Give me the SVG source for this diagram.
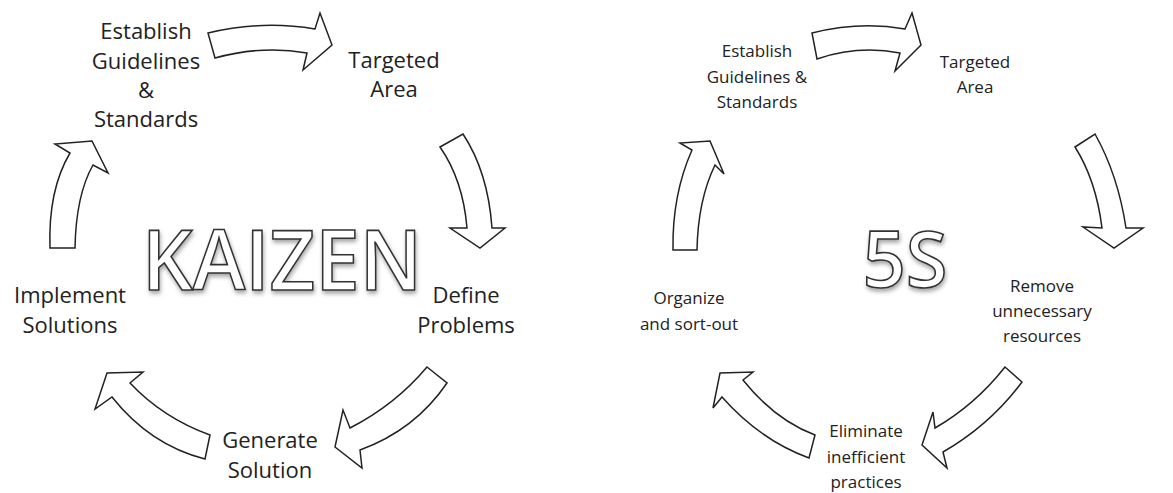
<svg xmlns="http://www.w3.org/2000/svg" width="1173" height="493" viewBox="0 0 1173 493">
<style>
.lbl{font-family:"Open Sans","Noto Sans",sans-serif;font-size:22px;fill:#222;text-anchor:middle}
.lbs{font-family:"Open Sans","Noto Sans",sans-serif;font-size:17px;fill:#222;text-anchor:middle}
.ttl{font-family:"Open Sans","Noto Sans",sans-serif;font-weight:600;fill:#fff;stroke:#333;stroke-width:1.6;text-anchor:middle;filter:url(#sh)}
.arr{fill:#fff;stroke:#222;stroke-width:1.5;stroke-linejoin:miter}
</style>
<defs>
<filter id="sh" x="-10%" y="-20%" width="120%" height="150%">
<feDropShadow dx="1" dy="3" stdDeviation="2" flood-color="#000" flood-opacity="0.35"/>
</filter>
</defs>
<rect width="1173" height="493" fill="#fff"/>
<g id="connectors">
<path class="arr" d="M208,33 Q262,20 315,29 L320,13 L332,45 L303,70 L307,53 Q262,45 215,58 Z"/>
<path class="arr" d="M440,147 L463,134 Q488,172 492,228 L505,228 L480,248 L450,228 L467,228 Q463,180 440,147 Z"/>
<path class="arr" d="M50,248 Q48,190 70,153 L55,144 L92,141 L108,173 L93,165 Q76,195 75,248 Z"/>
<path class="arr" d="M427,367 L447,383 Q415,430 360,450 L362,468 L335,447 L343,410 L350,428 Q395,405 427,367 Z"/>
<path class="arr" d="M210,435 L205,459 Q150,445 112,397 L95,409 L107,373 L143,372 L130,383 Q163,418 210,435 Z"/>
<path class="arr" d="M812,33 Q860,21 905,29 L912,13 L921,45 L895,71 L900,53 Q858,45 817,59 Z"/>
<path class="arr" d="M1075,147 L1095,134 Q1118,175 1126,228 L1143,228 L1114,248 L1083,227 L1102,228 Q1096,180 1075,147 Z"/>
<path class="arr" d="M673,250 Q672,195 692,150 L680,143 L710,141 L724,174 L715,165 Q698,200 697,250 Z"/>
<path class="arr" d="M1005,367 L1022,382 Q990,425 943,452 L947,468 L922,445 L933,412 L935,428 Q975,405 1005,367 Z"/>
<path class="arr" d="M815,435 L809,458 Q760,440 722,397 L713,408 L720,373 L753,372 L743,380 Q775,420 815,435 Z"/>
</g>
<g id="kaizen-title"><text class="ttl" x="282" y="290" font-size="84" textLength="280" lengthAdjust="spacingAndGlyphs">KAIZEN</text></g>
<g id="k-establish"><text class="lbl" x="146" y="39">Establish</text><text class="lbl" x="146" y="69">Guidelines</text><text class="lbl" x="146" y="98">&amp;</text><text class="lbl" x="146" y="127">Standards</text></g>
<g id="k-targeted"><text class="lbl" x="394" y="68">Targeted</text><text class="lbl" x="394" y="97">Area</text></g>
<g id="k-define"><text class="lbl" x="466" y="303">Define</text><text class="lbl" x="466" y="333">Problems</text></g>
<g id="k-generate"><text class="lbl" x="270" y="448">Generate</text><text class="lbl" x="270" y="478">Solution</text></g>
<g id="k-implement"><text class="lbl" x="70" y="303">Implement</text><text class="lbl" x="70" y="333">Solutions</text></g>
<g id="fives-title"><text class="ttl" x="905" y="287" font-size="77" textLength="85" lengthAdjust="spacingAndGlyphs">5S</text></g>
<g id="s-establish"><text class="lbs" x="757" y="57">Establish</text><text class="lbs" x="757" y="83">Guidelines &amp;</text><text class="lbs" x="757" y="108">Standards</text></g>
<g id="s-targeted"><text class="lbs" x="975" y="68">Targeted</text><text class="lbs" x="975" y="93">Area</text></g>
<g id="s-remove"><text class="lbs" x="1042" y="292">Remove</text><text class="lbs" x="1042" y="317">unnecessary</text><text class="lbs" x="1042" y="342">resources</text></g>
<g id="s-eliminate"><text class="lbs" x="866" y="437">Eliminate</text><text class="lbs" x="866" y="463">inefficient</text><text class="lbs" x="866" y="488">practices</text></g>
<g id="s-organize"><text class="lbs" x="689" y="304">Organize</text><text class="lbs" x="689" y="330">and sort-out</text></g>
</svg>
